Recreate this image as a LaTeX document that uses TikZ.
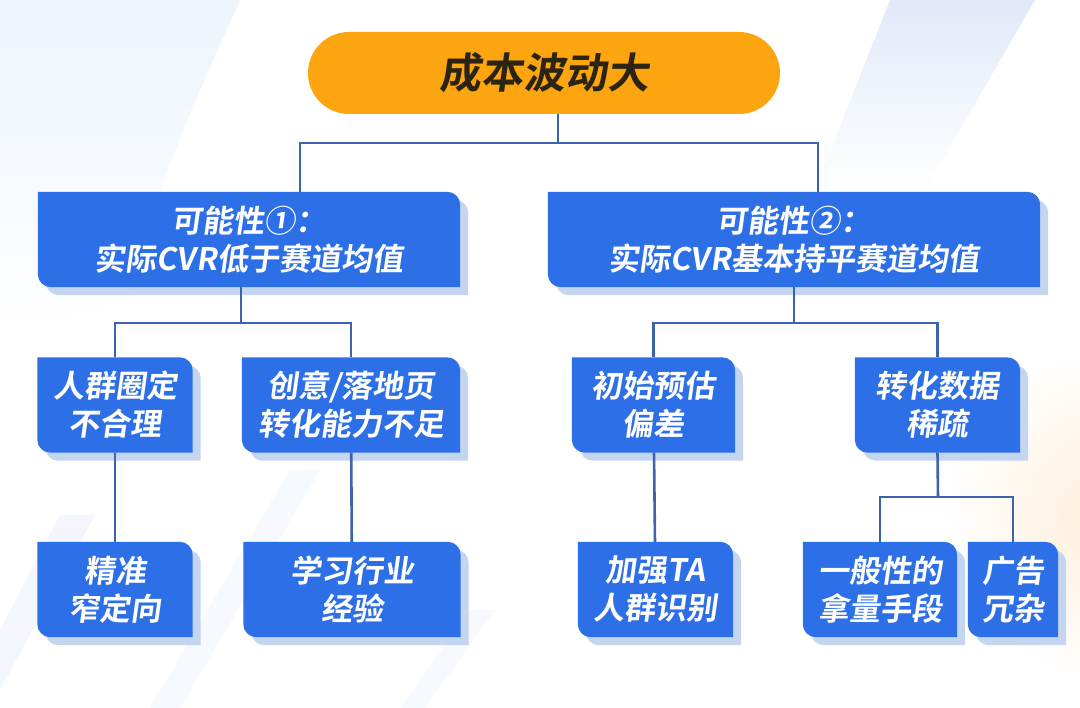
\documentclass[tikz,border=0pt]{standalone}
\usepackage{fontspec}
\setmainfont{Noto Sans CJK SC}
\newfontfamily\cardfont{Noto Sans CJK SC Bold}[FakeSlant=0.14]
\usetikzlibrary{backgrounds}
\definecolor{cardblue}{HTML}{2D6FE6}
\definecolor{cardshade}{HTML}{C4D5EF}
\definecolor{linkblue}{HTML}{3B63AE}
\definecolor{rootorange}{HTML}{FCA510}
\definecolor{roottext}{HTML}{2B2412}
\definecolor{paleblue}{HTML}{EDF4FC}
\definecolor{palelilac}{HTML}{E1E8F8}
\definecolor{paleorange}{HTML}{FDEDD8}
\pgfdeclarelayer{deco}
\pgfdeclarelayer{cards}
\pgfsetlayers{deco,cards,main}
\tikzset{card/.style={text=white,font=\fontsize{31}{38}\cardfont,align=center,minimum height=95pt,inner sep=0pt},
root/.style={fill=rootorange,rounded corners=41pt,minimum width=472pt,minimum height=82pt,text=roottext,font=\fontsize{42}{46}\cardfont},
link/.style={draw=linkblue,line width=2.6pt}}

\begin{document}
\begin{tikzpicture}[x=1pt,y=-1pt]
        \useasboundingbox (0,0) rectangle (1080,708);
        \node[root] (root) at (544,73) {成本波动大};
        \node[card,minimum width=422pt] (pL) at (249,239.5) {可能性①：\\实际CVR低于赛道均值};
        \node[card,minimum width=492pt] (pR) at (794,239.5) {可能性②：\\实际CVR基本持平赛道均值};
        \node[card,minimum width=155pt] (a1) at (115,405) {人群圈定\\不合理};
        \node[card,minimum width=218pt] (a2) at (351,405) {创意/落地页\\转化能力不足};
        \node[card,minimum width=163pt] (b1) at (653.5,405) {初始预估\\偏差};
        \node[card,minimum width=165pt] (b2) at (937.5,405) {转化数据\\稀疏};
        \node[card,minimum width=155pt] (a3) at (115,589.5) {精准\\窄定向};
        \node[card,minimum width=217pt] (a4) at (352,589.5) {学习行业\\经验};
        \node[card,minimum width=155pt] (b3) at (655.5,589.5) {加强TA\\人群识别};
        \node[card,minimum width=154pt] (b4) at (880,589.5) {一般性的\\拿量手段};
        \node[card,minimum width=90pt] (b5) at (1013,589.5) {广告\\冗杂};
        \coordinate (j0) at (558,143);
        \coordinate (j1) at (241,323);
        \coordinate (j2) at (794,323);
        \coordinate (j3) at (938,497);

        % background
        \begin{pgfonlayer}{deco}
        \fill[white] (0,0) rectangle (1080,708);
        \shade[top color=paleblue,bottom color=white] (0,0) -- (240,0) .. controls (200,90) and (160,170) .. (130,300) -- (0,330) -- cycle;
        \shade[top color=palelilac,bottom color=white] (890,0) -- (1035,0) -- (925,190) -- (815,190) -- cycle;
        \shade[inner color=paleorange,outer color=white] (1110,515) circle (165);
        \fill[paleblue!70] (0,630) -- (60,515) -- (95,515) -- (0,690) -- cycle;
        \fill[paleblue!50] (150,708) -- (290,470) -- (320,470) -- (180,708) -- cycle;
        \fill[paleblue!50] (400,708) -- (470,610) -- (495,610) -- (425,708) -- cycle;
        \end{pgfonlayer}

        % cards
        \begin{pgfonlayer}{cards}
        \foreach \n in {pL,pR,a1,a2,a3,a4,b1,b2,b3,b4,b5}{
            \fill[cardshade] ([shift={(8pt,-8pt)}]\n.west) -- ([shift={(8pt,-8pt)}]\n.north west) [rounded corners=13pt] -- ([shift={(8pt,-8pt)}]\n.north east) [sharp corners] -- ([shift={(8pt,-8pt)}]\n.south east) [rounded corners=13pt] -- ([shift={(8pt,-8pt)}]\n.south west) [sharp corners] -- cycle;
            \fill[cardblue] (\n.west) -- (\n.north west) [rounded corners=13pt] -- (\n.north east) [sharp corners] -- (\n.south east) [rounded corners=13pt] -- (\n.south west) [sharp corners] -- cycle;
        }
        \end{pgfonlayer}

        \draw[link] ([xshift=14pt]root.south) -- (j0);
        \draw[link] ([xshift=51pt]pL.north) |- (j0) -| ([xshift=24pt]pR.north);
        \draw[link] ([xshift=-8pt]pL.south) -- (j1);
        \draw[link] (a1.north) |- (j1) -| (a2.north);
        \draw[link] (pR.south) -- (j2);
        \draw[link] (b1.north) |- (j2) -| (b2.north);
        \draw[link] (a1) -- (a3);
        \draw[link] (a2) -- (a4);
        \draw[link] (b1) -- (b3);
        \draw[link] (b2.south) -- (j3);
        \draw[link] (b4.north) |- (j3) -| (b5.north);
\end{tikzpicture}
\end{document}
